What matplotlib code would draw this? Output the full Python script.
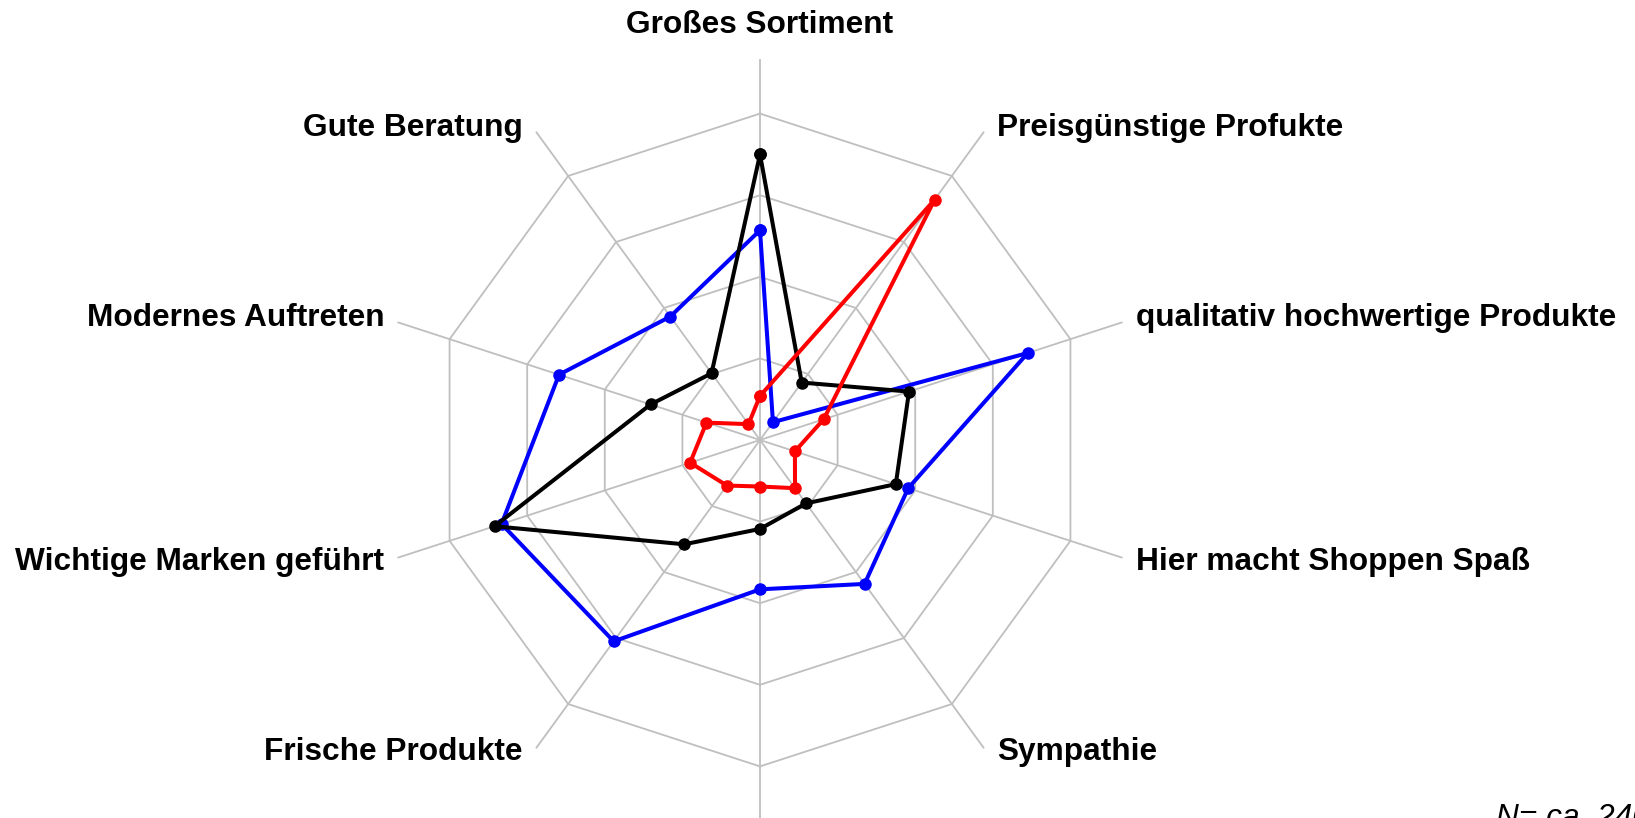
import matplotlib.pyplot as plt
import numpy as np

plt.rcParams['font.family'] = ['Liberation Sans', 'DejaVu Sans']

# Kriterien im Uhrzeigersinn, beginnend oben
labels = ['Großes Sortiment', 'Preisgünstige Profukte', 'qualitativ hochwertige Produkte',
          'Hier macht Shoppen Spaß', 'Sympathie', '', 'Frische Produkte',
          'Wichtige Marken geführt', 'Modernes Auftreten', 'Gute Beratung']

# Werte je Markt (Skala 0-4)
blue = [2.57, 0.27, 3.45, 1.91, 2.18, 1.83, 3.05, 3.33, 2.59, 1.87]
black = [3.50, 0.87, 1.92, 1.75, 0.96, 1.09, 1.58, 3.42, 1.41, 1.01]
red = [0.54, 3.64, 0.82, 0.45, 0.73, 0.57, 0.69, 0.90, 0.69, 0.24]

rings = [1, 2, 3, 4]
spoke_len = 4.66

n = len(labels)
ang = np.pi / 2 - np.arange(n) * 2 * np.pi / n  # im Uhrzeigersinn ab oben
ca, sa = np.cos(ang), np.sin(ang)

fig = plt.figure(figsize=(16.35, 8.18), dpi=100)
ax = fig.add_axes([0, 0, 1, 1])
scale = 81.6  # Pixel pro Einheit
ax.set_xlim(-760 / scale, (1635 - 760) / scale)
ax.set_ylim(-(818 - 440) / scale, 440 / scale)
ax.axis('off')

grid_col = '#BFBFBF'
for i in range(n):
    ax.plot([0, spoke_len * ca[i]], [0, spoke_len * sa[i]], color=grid_col, lw=1.3, zorder=1)
for r in rings:
    ax.plot(np.append(r * ca, r * ca[0]), np.append(r * sa, r * sa[0]),
            color=grid_col, lw=1.3, zorder=1)

for vals, col in [(blue, '#0000FF'), (black, 'black'), (red, '#FF0000')]:
    v = np.array(vals + vals[:1])
    x = v * np.append(ca, ca[0])
    y = v * np.append(sa, sa[0])
    ax.plot(x, y, color=col, lw=2.9, marker='o', ms=8, zorder=3)

# Beschriftungen
fs = 22.8
for i, lab in enumerate(labels):
    if not lab:
        continue
    ex, ey = spoke_len * ca[i], spoke_len * sa[i]
    if i == 0:
        ax.text(0, ey + 0.42, lab, ha='center', va='center', fontsize=fs, fontweight='bold')
    elif ca[i] > 0:
        ax.text(ex + 0.17, ey + 0.05 * np.sign(sa[i]), lab, ha='left', va='center',
                fontsize=fs, fontweight='bold')
    else:
        ax.text(ex - 0.17, ey + 0.05 * np.sign(sa[i]), lab, ha='right', va='center',
                fontsize=fs, fontweight='bold')

ax.text((1496 - 760) / scale, -(826 - 440) / scale, 'N= ca. 240', ha='left', va='baseline',
        fontsize=fs, style='italic')

plt.savefig('out.png', dpi=100)
